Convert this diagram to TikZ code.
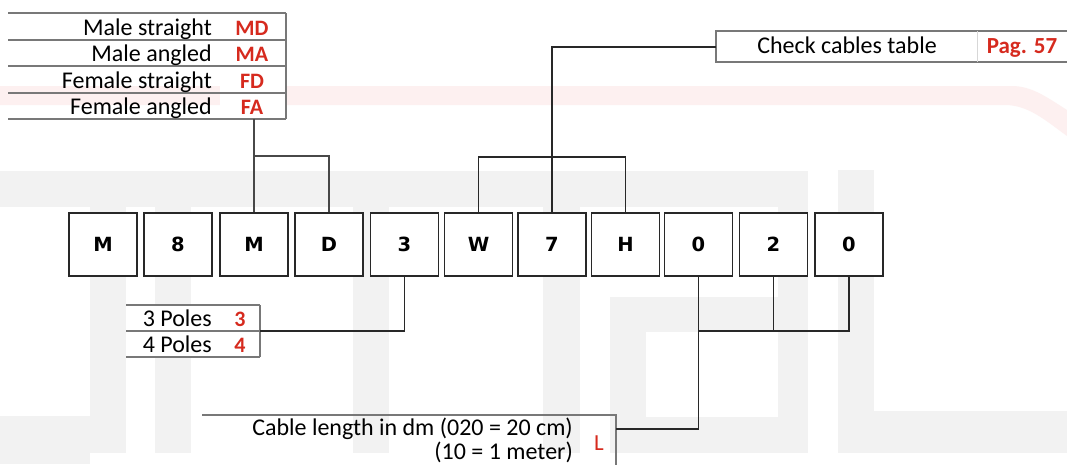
\documentclass[tikz,border=0pt]{standalone}
\usepackage{fontspec}
\setmainfont{Carlito}
\newfontfamily\boxfont{DejaVu Sans}
\definecolor{wm}{RGB}{242,242,242}
\definecolor{pinkwm}{RGB}{253,240,240}
\definecolor{codered}{RGB}{214,42,30}
\definecolor{tabline}{RGB}{120,120,120}
\definecolor{conline}{RGB}{40,40,40}
\begin{document}
\begin{tikzpicture}[x=1pt,y=-1pt,
  digit/.style={draw=conline, line width=1.4pt, fill=white, minimum width=68pt, minimum height=63pt, inner sep=0pt,
    font=\boxfont\fontsize{19.5}{20}\selectfont\bfseries, text height=14.2pt, text depth=0pt},
  lbl/.style={inner sep=0pt, anchor=base east, font=\fontsize{24}{25}\selectfont},
  code/.style={inner sep=0pt, anchor=base, text=codered, font=\fontsize{22}{25}\selectfont\bfseries},
  tline/.style={draw=tabline, line width=1.3pt},
  conn/.style={draw=conline, line width=1.3pt},
  connA/.style={draw=conline!85, line width=1.7pt},
  wmark/.style={fill=wm},
]
\useasboundingbox (0,0) rectangle (1067,464);
\fill[white] (0,0) rectangle (1067,464);
% watermark
\fill[wmark] (0,171) rectangle (808,207);
\fill[wmark] (90,207) rectangle (126,453);
\fill[wmark] (0,416) rectangle (90,464);
\fill[wmark] (155,207) rectangle (191,453);
\fill[wmark] (353,207) rectangle (389,453);
\fill[wmark] (543,207) rectangle (580,453);
\fill[wmark] (778,207) rectangle (808,453);
\fill[wmark] (610,297) rectangle (778,332);
\fill[wmark] (610,332) rectangle (646,453);
\fill[wmark] (646,417) rectangle (778,453);
\fill[wmark] (838,170) rectangle (874,453);
\fill[wmark] (874,411) rectangle (1067,453);
\fill[pinkwm] (0,86) -- (1012,86) .. controls (1032,86) and (1048,98) .. (1067,110)
  -- (1067,136) .. controls (1045,120) and (1028,105) .. (1005,105) -- (0,105) -- cycle;

% top-left table
\fill[white] (220,13) rectangle (286,119);
\foreach \yy in {13,40,66,93,119} \draw[tline] (8,\yy) -- (286,\yy);
\draw[tline] (286,13) -- (286,119);
\node[inner sep=0pt, minimum width=278pt, minimum height=106pt] (tabA) at (147,66) {};
\node[lbl] (la1) at (212,35) {Male straight};
\node[lbl] (la2) at (212,61.5) {Male angled};
\node[lbl] (la3) at (212,88) {Female straight};
\node[lbl] (la4) at (212,114.5) {Female angled};
\node[code] (ca1) at (252,35) {MD};
\node[code] (ca2) at (252,61.5) {MA};
\node[code] (ca3) at (252,88) {FD};
\node[code] (ca4) at (252,114.5) {FA};

% check cables table
\fill[white] (716,31) rectangle (1067,62);
\draw[tline] (1070,31) -- (716,31) -- (716,62) -- (1070,62);
\draw[draw=tabline!30, line width=1pt] (977,31) -- (977,62);
\coordinate (tabB) at (716,47);
\node[lbl, anchor=base] (lb) at (847,53) {Check cables table};
\node[code, font=\fontsize{23}{25}\selectfont\bfseries] (cb) at (1022,53) {Pag. 57};

% poles table
\fill[white] (126,305) rectangle (260,357);
\foreach \yy in {305,331,357} \draw[tline] (126,\yy) -- (260,\yy);
\draw[tline] (260,305) -- (260,357);
\coordinate (tabC) at (260,331);
\node[lbl] (lc1) at (212,326) {3 Poles};
\node[lbl] (lc2) at (212,352) {4 Poles};
\node[code] (cc1) at (240,326) {3};
\node[code] (cc2) at (240,352) {4};

% length table
\draw[tline] (202,415) -- (616,415) -- (616,466);
\coordinate (tabD) at (616,429);
\node[inner sep=0pt, anchor=base east, align=right, font=\fontsize{24}{24}\selectfont] (ld) at (573,459.5)
  {Cable length in dm (020 = 20 cm)\\(10 = 1 meter)};
\node[code, font=\fontsize{23}{25}\selectfont] (cd) at (599,450) {L};

% code boxes
\node[digit] (b1) at (103,244.5) {M};
\node[digit] (b2) at (178,244.5) {8};
\node[digit] (b3) at (254,244.5) {M};
\node[digit] (b4) at (329,244.5) {D};
\node[digit] (b5) at (404.5,244.5) {3};
\node[digit] (b6) at (478.5,244.5) {W};
\node[digit] (b7) at (552,244.5) {7};
\node[digit] (b8) at (625.5,244.5) {H};
\node[digit] (b9) at (698.5,244.5) {0};
\node[digit] (b10) at (773.5,244.5) {2};
\node[digit] (b11) at (849,244.5) {0};

% connectors
\coordinate (j1) at (254,156);
\draw[connA] (b3.north) -- (b3.north |- tabA.south);
\draw[connA] (b4.north) |- (j1);
\coordinate (j2) at (552,157);
\draw[conn] (b6.north) |- (j2) -| (b8.north);
\draw[conn] (b7.north) |- (tabB);
\draw[conn] (b5.south) |- (tabC);
\coordinate (j3) at (849,331);
\draw[conn] (b11.south) -- (j3) -- (b9.south |- j3);
\draw[conn] (b10.south) -- (b10.south |- j3);
\draw[conn] (b9.south) |- (tabD);
\end{tikzpicture}
\end{document}
